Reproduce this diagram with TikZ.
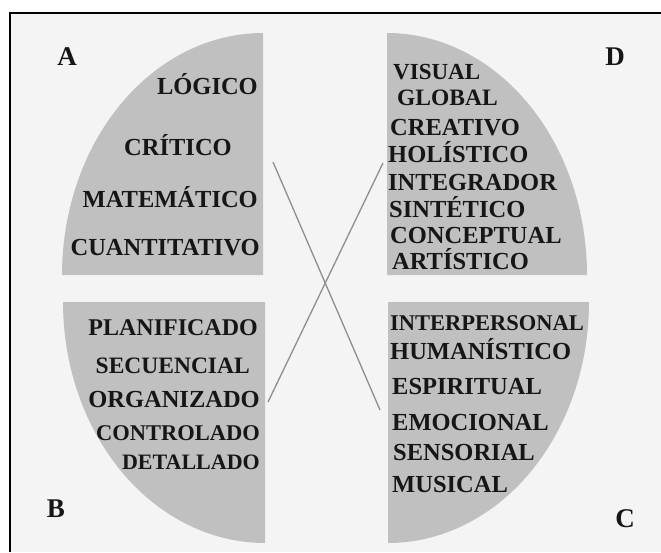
\documentclass[tikz,border=0pt]{standalone}
\usepackage{fontspec}
\setmainfont{Liberation Serif}
\definecolor{bgin}{HTML}{F4F4F4}
\definecolor{quad}{HTML}{C0C0C0}
\definecolor{txt}{HTML}{161616}
\definecolor{crossline}{HTML}{8E8E8E}
\begin{document}
\begin{tikzpicture}[x=1pt,y=-1pt,
  word/.style={font=\bfseries\fontsize{24.5}{24.5}\selectfont, text=txt, inner sep=0pt, text height=15pt, text depth=0pt},
  wsize/.style={font=\bfseries\fontsize{#1}{#1}\selectfont},
  letter/.style={font=\bfseries\fontsize{27}{27}\selectfont, text=txt, inner sep=0pt},
  quadfill/.style={fill=quad, draw=none},
  xline/.style={draw=crossline, line width=1.3pt}]
\useasboundingbox (0,0) rectangle (661,552);
\fill[white] (0,0) rectangle (661,552);
\fill[bgin] (10,13) rectangle (661,552);
\draw[line width=2pt, black] (10,552) -- (10,13) -- (661,13);
% quadrants
\fill[quadfill] (263,275) -- plot[domain=180:270, samples=60, smooth] ({263+201*cos(\x)},{275+242*sin(\x)}) -- cycle;
\fill[quadfill] (387,275) -- plot[domain=270:360, samples=60, smooth] ({387+200*cos(\x)},{275+242*sin(\x)}) -- cycle;
\fill[quadfill] (265,302) -- plot[domain=90:180, samples=60, smooth] ({265+202*cos(\x)},{302+241*sin(\x)}) -- cycle;
\fill[quadfill] (388,302) -- plot[domain=0:90, samples=60, smooth] ({388+201*cos(\x)},{302+241*sin(\x)}) -- cycle;
% cross lines
\coordinate (l1a) at (273,162);
\coordinate (l1b) at (380,410);
\coordinate (l2a) at (383,163);
\coordinate (l2b) at (268,402);
\draw[xline] (l1a) -- (l1b);
\draw[xline] (l2a) -- (l2b);
% letters
\node[letter] (A) at (67,57) {A};
\node[letter] (D) at (615,57) {D};
\node[letter] (B) at (56,509) {B};
\node[letter] (C) at (625,519) {C};
% quadrant A
\node[word, anchor=east] (a1) at (258,87) {LÓGICO};
\node[word] (a2) at (178,148) {CRÍTICO};
\node[word, anchor=east] (a3) at (258,200) {MATEMÁTICO};
\node[word, anchor=east] (a4) at (260,248) {CUANTITATIVO};
% quadrant D
\node[word, wsize=23, anchor=west] (d1) at (393,72) {VISUAL};
\node[word, wsize=23.5, anchor=west] (d2) at (397,98) {GLOBAL};
\node[word, anchor=west] (d3) at (390,128) {CREATIVO};
\node[word, anchor=west] (d4) at (388,155) {HOLÍSTICO};
\node[word, anchor=west] (d5) at (388,183) {INTEGRADOR};
\node[word, anchor=west] (d6) at (389,210) {SINTÉTICO};
\node[word, anchor=west] (d7) at (390,236) {CONCEPTUAL};
\node[word, anchor=west] (d8) at (392,262) {ARTÍSTICO};
% quadrant B
\node[word, wsize=24, anchor=east] (b1) at (258,328) {PLANIFICADO};
\node[word, wsize=23.5, anchor=east] (b2) at (250,366) {SECUENCIAL};
\node[word, anchor=east] (b3) at (260,400) {ORGANIZADO};
\node[word, wsize=22.5, anchor=east] (b4) at (260,433) {CONTROLADO};
\node[word, wsize=22, anchor=east] (b5) at (260,462) {DETALLADO};
% quadrant C
\node[word, wsize=22.5, anchor=west] (c1) at (390,323) {INTERPERSONAL};
\node[word, anchor=west] (c2) at (390,352) {HUMANÍSTICO};
\node[word, anchor=west] (c3) at (392,387) {ESPIRITUAL};
\node[word, anchor=west] (c4) at (392,423) {EMOCIONAL};
\node[word, anchor=west] (c5) at (393,453) {SENSORIAL};
\node[word, anchor=west] (c6) at (392,485) {MUSICAL};
\end{tikzpicture}
\end{document}
